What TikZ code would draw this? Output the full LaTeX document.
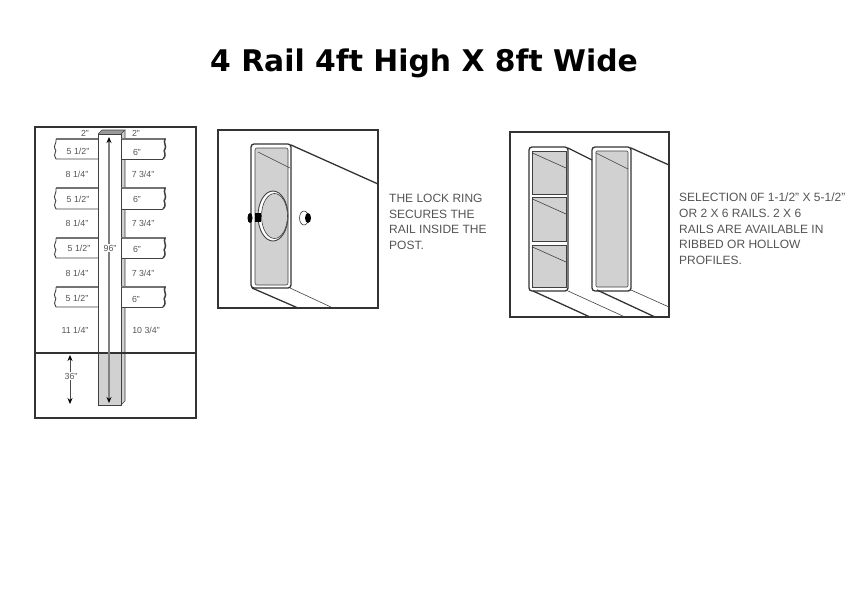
\documentclass[tikz,border=0pt]{standalone}
\usepackage{fontspec}
\usepackage{tkz-euclide}
\usetikzlibrary{arrows.meta}
\setmainfont{Liberation Sans}
\newfontfamily\titlefont{DejaVu Sans}
\definecolor{railgray}{gray}{0.82}
\definecolor{inkgray}{gray}{0.33}
\tikzset{
	frameline/.style={draw=black!80,line width=1.3pt},
	railline/.style={draw=black!80,line width=1.3pt},
	thinline/.style={draw=black!75,line width=0.6pt},
	dimarrow/.style={{Stealth[length=6pt,width=5pt,color=black]}-{Stealth[length=6pt,width=5pt,color=black]}},
	dimlabel/.style={font=\fontsize{8.8}{10}\selectfont,text=inkgray,inner sep=1pt},
	note/.style={font=\fontsize{12}{15.6}\selectfont,text=inkgray,align=left,anchor=north west,inner sep=0pt},
}
\begin{document}
\begin{tikzpicture}[x=1pt,y=-1pt]
		\useasboundingbox (0,0) rectangle (850,600);
		\node[font=\titlefont\bfseries\fontsize{29.8}{36}\selectfont] (title) at (424,63.5) {4 Rail 4ft High X 8ft Wide};
		% 立柱
		\tkzDefPoint(35,127){A}
		\tkzDefPoint(196,418){C}
		\draw[frameline] (A) rectangle (C);
		\fill[railgray] (121,134) -- (125,131) -- (125,401) -- (121,405) -- cycle;
		\fill[railgray] (98,353) rectangle (121,405);
		\fill[black!40] (98,134) -- (102,130) -- (125,130) -- (121,134) -- cycle;
		\draw[thinline] (98,134) -- (102,130) -- (125,130) -- (121,134);
		\draw[thinline] (125,130) -- (125,401) -- (121,405);
		\draw[thinline,line width=0.9pt] (98,134) rectangle (121,405);
		\draw[frameline] (35,353) -- (196,353);
		% 横杆
		\foreach \railtop/\railbot in {139/159,188/209,238/258,287/307}{
			\fill[white] (55,\railtop) rectangle (98,\railbot);
			\fill[white] (121,\railtop) rectangle (166,\railbot);
			\draw[black!55,line width=2pt] (56,\railtop) -- (98,\railtop) (121,\railtop) -- (166,\railtop);
			\draw[thinline,line width=0.9pt] (98,\railbot) -- (56,\railbot) .. controls (52,\railbot-5) and (58,\railbot-8) .. (55,\railbot-10) .. controls (53,\railbot-13) and (57,\railbot-16) .. (56,\railtop);
			\draw[thinline,line width=0.9pt] (121,\railtop) -- (121,\railbot) -- (163,\railbot);
			\draw[thinline,line width=1.5pt] (163,\railbot) .. controls (168,\railbot-5) and (162,\railbot-8) .. (165,\railbot-10) .. controls (167,\railbot-13) and (163,\railbot-16) .. (165,\railtop);
		}
		% 尺寸
		\draw[dimarrow,black!50,line width=1.8pt] (109,137) -- (109,403);
		\draw[dimarrow,black!70,line width=0.7pt] (70,355) -- (70,404);
		\node[dimlabel,fill=white] (LTotal) at (110,248) {96"};
		\node[dimlabel,fill=white] (LDepth) at (71,376) {36"};
		\node[dimlabel] (LPostL) at (85,133) {2"};
		\node[dimlabel] (LPostR) at (136,133) {2"};
		\foreach \labx/\laby/\labt [count=\labn] in {78/151/{5 1/2"},78/199/{5 1/2"},79/248/{5 1/2"},77/298/{5 1/2"},
			137/152/{6"},137/199/{6"},137/249/{6"},136/299/{6"},
			77/174/{8 1/4"},77/223/{8 1/4"},77/273/{8 1/4"},
			143/174/{7 3/4"},143/223/{7 3/4"},143/273/{7 3/4"},75/330/{11 1/4"},146/330/{10 3/4"}}{
			\node[dimlabel] (L\labn) at (\labx,\laby) {\labt};
		}
		% 锁环
		\draw[railline] (291,145) -- (378,184);
		\draw[railline] (252,288) -- (298,308);
		\draw[thinline] (290,288) -- (333,308);
		\draw[railline,rounded corners=3pt] (251,144) rectangle (291,288);
		\draw[thinline,fill=railgray,rounded corners=2pt] (255,148) rectangle (288,285);
		\draw[thinline] (258,152) -- (290,168);
		\draw[thinline,line width=0.9pt,fill=white] (273,216) ellipse (15 and 25);
		\draw[thinline,fill=railgray] (274.5,216) ellipse (13 and 22.5);
		\fill[black] (250,218) ellipse (2.5 and 5);
		\fill[black] (255,213) rectangle (261,222);
		\draw[thinline,fill=white] (304,218) ellipse (4.5 and 7);
		\fill[black] (308,218) ellipse (3 and 5);
		\draw[frameline] (218,130) rectangle (378,308);
		\node[note] (lockNote) at (389,194) {THE LOCK RING\\SECURES THE\\RAIL INSIDE THE\\POST.};
		% 两种型材
		\draw[railline] (568,148) -- (592,160);
		\draw[railline] (631,148) -- (669,165);
		\draw[railline] (533,291) -- (590,317);
		\draw[thinline] (568,291) -- (625,317);
		\draw[railline] (597,290) -- (655,317);
		\draw[thinline] (631,290) -- (669,307);
		\draw[railline,rounded corners=3pt] (529,147) rectangle (568,291);
		\draw[railline,rounded corners=3pt] (592,147) rectangle (631,291);
		\foreach \celltop/\cellbot in {151/194,197/241,245/287}{
			\draw[thinline,fill=railgray] (532,\celltop) rectangle (566,\cellbot);
			\draw[thinline] (532.5,\celltop+2) -- (566,\celltop+17);
		}
		\draw[thinline,fill=railgray,rounded corners=1pt] (596,151) rectangle (628,287);
		\draw[thinline] (596,153) -- (628,169);
		\draw[frameline] (510,132) rectangle (669,317);
		\node[note] (railNote) at (679,193) {SELECTION 0F 1-1/2" X 5-1/2"\\OR 2 X 6 RAILS. 2 X 6\\RAILS ARE AVAILABLE IN\\RIBBED OR HOLLOW\\PROFILES.};
	\end{tikzpicture}
\end{document}
